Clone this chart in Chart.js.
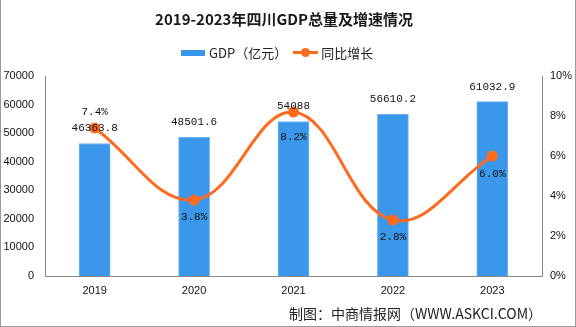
<!DOCTYPE html>
<html>
<head>
<meta charset="utf-8">
<script src="https://cdn.jsdelivr.net/npm/chart.js@4/dist/chart.umd.min.js"></script>
<style>
  html, body { margin: 0; padding: 0; background: #fff; }
  #wrap { position: relative; width: 576px; height: 327px; box-sizing: border-box; border: 1px solid #9a9a9a; border-top: none; overflow: hidden; }
  #chart { position: absolute; left: 0; top: 0; }
  .title { position: absolute; left: 0; width: 566px; top: 8px; text-align: center; font: bold 15px "Noto Sans CJK SC", sans-serif; color: #1a1a1a; }
  .legend { position: absolute; top: 43px; left: 180px; font: 13px "Noto Sans CJK SC", sans-serif; color: #222; display: flex; align-items: center; }
  .sw-bar { width: 24px; height: 6px; background: #3b97ea; margin-right: 4px; }
  .sw-line { position: relative; width: 25px; height: 3px; background: #ff6a1f; margin: 0 3px 0 6px; }
  .sw-line::after { content: ""; position: absolute; left: 8px; top: -3px; width: 9px; height: 9px; border-radius: 50%; background: #ff6a1f; }
  .footer { position: absolute; left: 288px; top: 303px; font: 14px "Noto Sans CJK SC", sans-serif; color: #222; }
</style>
</head>
<body>
<div id="wrap">
  <canvas id="chart" width="576" height="327"></canvas>
  <div class="title">2019-2023年四川GDP总量及增速情况</div>
  <div class="legend">
    <span class="sw-bar"></span><span>GDP（亿元）</span>
    <span class="sw-line"></span><span>同比增长</span>
  </div>
  <div class="footer">制图：中商情报网（WWW.ASKCI.COM）</div>
</div>
<script>
const years = ["2019", "2020", "2021", "2022", "2023"];
const gdpValues = [46363.8, 48501.6, 54088, 56610.2, 61032.9];
const gdpLabels = ["46363.8", "48501.6", "54088", "56610.2", "61032.9"];
const growthValues = [7.4, 3.8, 8.2, 2.8, 6.0];
const growthLabels = ["7.4%", "3.8%", "8.2%", "2.8%", "6.0%"];

// vertical offset of growth labels relative to point (style only)
const growthLabelOffsets = [-16, 17, 25, 17, 18];

const labelPlugin = {
  id: "valueLabels",
  afterDatasetsDraw(chart) {
    const { ctx } = chart;
    ctx.save();
    ctx.font = "11px 'Liberation Mono', monospace";
    ctx.fillStyle = "#111";
    ctx.textAlign = "center";
    ctx.textBaseline = "middle";
    const barMeta = chart.getDatasetMeta(0);
    barMeta.data.forEach((bar, i) => {
      ctx.fillText(gdpLabels[i], bar.x, bar.y - 15);
    });
    const lineMeta = chart.getDatasetMeta(1);
    lineMeta.data.forEach((pt, i) => {
      ctx.fillText(growthLabels[i], pt.x, pt.y + growthLabelOffsets[i]);
    });
    ctx.restore();
  },
};

const tickFont = { size: 11, family: "'Liberation Sans', Arial" };

new Chart(document.getElementById("chart"), {
  data: {
    labels: years,
    datasets: [
      {
        type: "bar",
        label: "GDP（亿元）",
        data: gdpValues,
        backgroundColor: "#3b97ea",
        borderColor: "#6ab3f2",
        borderWidth: { left: 1, right: 1, top: 1, bottom: 0 },
        barThickness: 31,
        yAxisID: "y",
        order: 2,
      },
      {
        type: "line",
        label: "同比增长",
        data: growthValues,
        borderColor: "#ff6a1f",
        backgroundColor: "#ff6a1f",
        borderWidth: 3,
        pointRadius: 4,
        pointHoverRadius: 4,
        tension: 0.4,
        yAxisID: "y1",
        order: 1,
      },
    ],
  },
  plugins: [labelPlugin],
  options: {
    responsive: false,
    animation: false,
    layout: { padding: { top: 76, left: 0, right: 0, bottom: 0 } },
    plugins: { legend: { display: false }, tooltip: { enabled: false } },
    scales: {
      x: {
        grid: { display: false, drawTicks: false },
        border: { color: "#888", width: 1 },
        ticks: { color: "#111", font: tickFont, padding: 8 },
        afterFit(s) { s.height = 51; },
      },
      y: {
        position: "left",
        min: 0, max: 70000,
        grid: { display: false, drawTicks: false },
        border: { color: "#888", width: 1 },
        ticks: { stepSize: 10000, color: "#111", font: tickFont, padding: 11, callback: (v) => String(v) },
        afterFit(s) { s.width = 44; },
      },
      y1: {
        position: "right",
        min: 0, max: 10,
        grid: { display: false, drawTicks: false },
        border: { color: "#888", width: 1 },
        ticks: { stepSize: 2, color: "#111", font: tickFont, padding: 8, callback: (v) => v + "%" },
        afterFit(s) { s.width = 35; },
      },
    },
  },
});
</script>
</body>
</html>
